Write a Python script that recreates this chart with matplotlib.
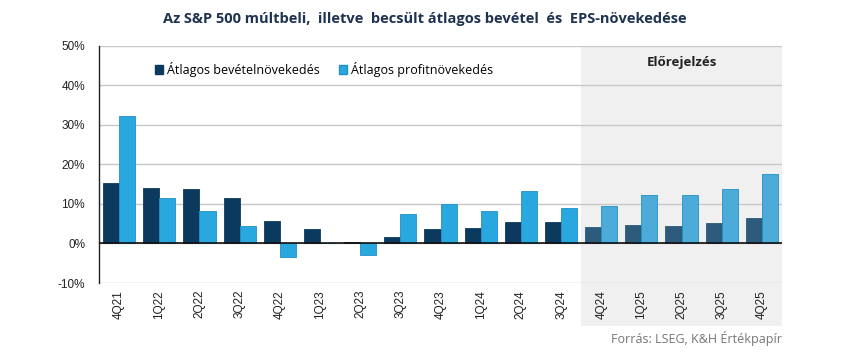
import matplotlib.pyplot as plt
from matplotlib.patches import Rectangle, Patch
import numpy as np

quarters = ["4Q21", "1Q22", "2Q22", "3Q22", "4Q22", "1Q23", "2Q23", "3Q23", "4Q23",
            "1Q24", "2Q24", "3Q24", "4Q24", "1Q25", "2Q25", "3Q25", "4Q25"]
revenue = [15.2, 14.0, 13.7, 11.6, 5.7, 3.6, 0.3, 1.6, 3.6, 3.9, 5.4, 5.4,
           4.1, 4.7, 4.4, 5.2, 6.5]
profit = [32.4, 11.4, 8.3, 4.4, -3.3, 0.0, -3.0, 7.5, 10.1, 8.3, 13.2, 9.1,
          9.6, 12.2, 12.2, 13.7, 17.6]
n_actual = 12  # first forecast quarter index (4Q24)

navy = "#0B3A5E"
blue = "#29A8E0"
navy_f = "#2D5B7B"
blue_f = "#4DABD9"

fig = plt.figure(figsize=(8.5, 3.53), dpi=100)
ax = fig.add_axes([0.1165, 0.1983, 0.8035, 0.6714])

x = np.arange(len(quarters))
w = 0.4
rev_colors = [navy if i < n_actual else navy_f for i in x]
prof_colors = [blue if i < n_actual else blue_f for i in x]
ax.bar(x - w / 2, revenue, w, color=rev_colors, edgecolor=rev_colors, linewidth=0.6, zorder=3)
ax.bar(x + w / 2, profit, w, color=prof_colors, edgecolor="#2190C4", linewidth=0.6, zorder=3)

ax.set_xlim(-0.5, len(quarters) - 0.5)
ax.set_ylim(-10, 50)
ax.set_yticks(range(-10, 51, 10))
ax.set_yticklabels([f"{v}%" for v in range(-10, 51, 10)], fontsize=8.5, color="#222222",
                   family="Liberation Sans")
ax.set_xticks(x)
ax.set_xticklabels(quarters, rotation=90, fontsize=8.5, color="#222222", family="Liberation Sans")
ax.tick_params(axis="both", length=0, pad=5)
ax.tick_params(axis="y", pad=10)

for s in ["top", "right", "bottom"]:
    ax.spines[s].set_visible(False)
ax.spines["left"].set_color("#222222")
ax.spines["left"].set_linewidth(1.0)

ax.grid(axis="y", color="#C8C8C8", linewidth=1.0, zorder=0)
ax.set_axisbelow(True)
ax.axhline(0, color="#111111", linewidth=1.2, zorder=4)

# forecast shading, extends under the tick labels
shade = Rectangle((n_actual - 0.5, 1.0), len(quarters) - n_actual, -1.18,
                  transform=ax.get_xaxis_transform(), facecolor="#F0F0F0",
                  edgecolor="none", clip_on=False, zorder=0)
ax.add_patch(shade)
ax.text(n_actual - 0.5 + (len(quarters) - n_actual) / 2, 0.93, "Előrejelzés",
        transform=ax.get_xaxis_transform(), ha="center", va="center",
        fontsize=9.5, fontweight="bold", color="#222222", family="Open Sans")

handles = [Patch(facecolor=navy, edgecolor=navy), Patch(facecolor=blue, edgecolor="#2190C4")]
ax.legend(handles, ["Átlagos bevételnövekedés", "Átlagos profitnövekedés"],
          loc="upper left", bbox_to_anchor=(0.065, 0.98), ncol=2, frameon=False,
          fontsize=9, handlelength=0.7, handleheight=0.7, handletextpad=0.3,
          columnspacing=1.5, prop={"family": "Open Sans", "size": 9})

fig.text(0.5, 0.945, "Az S&P 500 múltbeli,  illetve  becsült átlagos bevétel  és  EPS-növekedése",
         ha="center", va="center", fontsize=10.5, fontweight="bold", color="#1F3350",
         family="Open Sans")
fig.text(0.92, 0.04, "Forrás: LSEG, K&H Értékpapír", ha="right", va="center",
         fontsize=9, color="#777777", family="Open Sans")

fig.savefig("out.png", dpi=100)
